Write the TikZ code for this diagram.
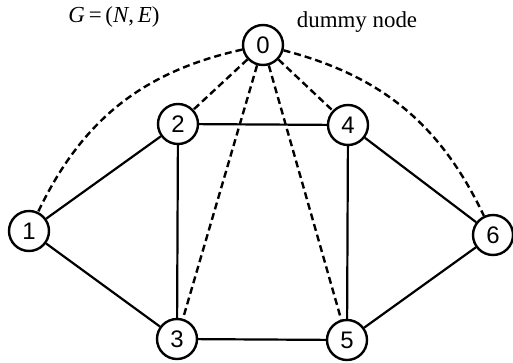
\documentclass[tikz,border=0pt]{standalone}
\usepackage{fontspec}
\setmainfont{Liberation Serif}
\newfontfamily\digitfont{Liberation Sans}
\usetikzlibrary{positioning}

\begin{document}
\begin{tikzpicture}[x=1bp, y=1bp,
      vertex/.style={circle, draw, line width=2.4bp, minimum size=40bp, inner sep=0pt,
      font=\digitfont\fontsize{24}{24}\selectfont},
      edge/.style={line width=2.2bp},
      dummyedge/.style={line width=2.4bp, dash pattern=on 7bp off 4bp},
      caption/.style={inner sep=0pt, font=\fontsize{23}{26}\selectfont}
    ]
      \useasboundingbox (0,0) rectangle (513,362);

      \node[vertex] (n0) at (263,317) {0};
      \node[vertex] (n2) at (178,238) {2};
      \node[vertex] (n4) at (348,237) {4};
      \node[vertex] (n1) at (29,131) {1};
      \node[vertex] (n6) at (493,127) {6};
      \node[vertex] (n3) at (177,23) {3};
      \node[vertex] (n5) at (347,22) {5};

      \node[caption] (graphname) at (114,345) {\textit{G}\,=\,(\textit{N},\,\textit{E})};
      \node[caption] (dummyname) at (357,340) {dummy node};

      % original edges
      \draw[edge] (n1) -- (n2);
      \draw[edge] (n1) -- (n3);
      \draw[edge] (n2) -- (n4);
      \draw[edge] (n2) -- (n3);
      \draw[edge] (n3) -- (n5);
      \draw[edge] (n4) -- (n5);
      \draw[edge] (n4) -- (n6);
      \draw[edge] (n5) -- (n6);

      % edges to the dummy node
      \draw[dummyedge] (n0) to[bend right=26] (n1);
      \draw[dummyedge] (n0) -- (n2);
      \draw[dummyedge] (n0) -- (n3);
      \draw[dummyedge] (n0) -- (n4);
      \draw[dummyedge] (n0) -- (n5);
      \draw[dummyedge] (n0) to[bend left=25] (n6);
    \end{tikzpicture}
\end{document}
